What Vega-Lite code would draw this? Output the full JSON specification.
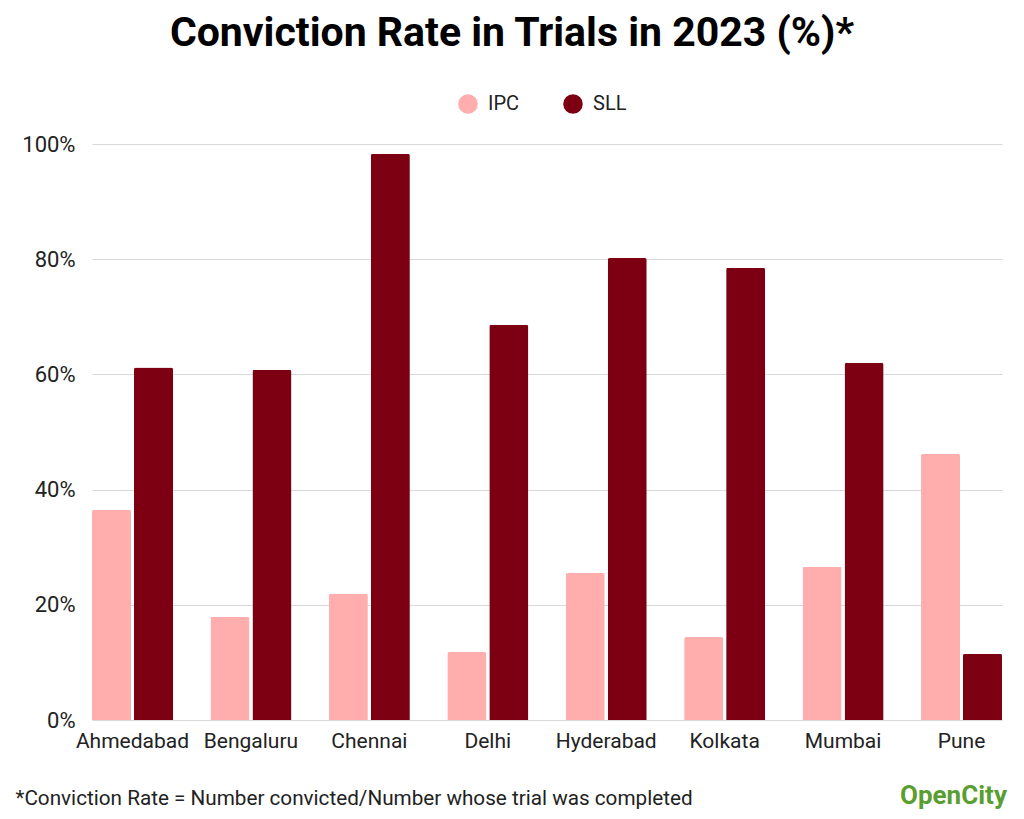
{
  "$schema": "https://vega.github.io/schema/vega-lite/v6.json",
  "autosize": "none",
  "width": 910,
  "height": 576,
  "padding": {"left": 92, "top": 144, "right": 22, "bottom": 99},
  "background": "white",
  "config": {
    "font": "Roboto",
    "view": {"stroke": null}
  },
  "title": {
    "text": "Conviction Rate in Trials in 2023 (%)*",
    "font": "Roboto",
    "fontSize": 41,
    "fontWeight": "bold",
    "color": "#000000",
    "anchor": "middle",
    "dx": -35,
    "offset": 39
  },
  "layer": [
    {
      "data": {
        "values": [
          {"city": "Ahmedabad", "type": "IPC", "value": 36.5},
          {"city": "Ahmedabad", "type": "SLL", "value": 61.2},
          {"city": "Bengaluru", "type": "IPC", "value": 17.9},
          {"city": "Bengaluru", "type": "SLL", "value": 60.8},
          {"city": "Chennai", "type": "IPC", "value": 21.9},
          {"city": "Chennai", "type": "SLL", "value": 98.3},
          {"city": "Delhi", "type": "IPC", "value": 11.8},
          {"city": "Delhi", "type": "SLL", "value": 68.6},
          {"city": "Hyderabad", "type": "IPC", "value": 25.5},
          {"city": "Hyderabad", "type": "SLL", "value": 80.2},
          {"city": "Kolkata", "type": "IPC", "value": 14.4},
          {"city": "Kolkata", "type": "SLL", "value": 78.5},
          {"city": "Mumbai", "type": "IPC", "value": 26.6},
          {"city": "Mumbai", "type": "SLL", "value": 62.0},
          {"city": "Pune", "type": "IPC", "value": 46.2},
          {"city": "Pune", "type": "SLL", "value": 11.5}
        ]
      },
      "mark": {"type": "bar", "cornerRadiusTopLeft": 2, "cornerRadiusTopRight": 2},
      "encoding": {
        "x": {
          "field": "city",
          "type": "nominal",
          "sort": null,
          "scale": {"paddingInner": 0.316, "paddingOuter": 0},
          "axis": {
            "labelAngle": 0,
            "labelFontSize": 21,
            "labelColor": "#222222",
            "labelPadding": 10,
            "ticks": false,
            "domain": false,
            "title": "*Conviction Rate = Number convicted/Number whose trial was completed",
            "titleFontSize": 20.7,
            "titleFontWeight": "normal",
            "titleColor": "#222222",
            "titleAnchor": "start",
            "titleAlign": "left",
            "titleBaseline": "alphabetic",
            "titleX": -77,
            "titleY": 84
          }
        },
        "xOffset": {
          "field": "type",
          "type": "nominal",
          "scale": {"paddingInner": 0.071, "paddingOuter": 0}
        },
        "y": {
          "field": "value",
          "type": "quantitative",
          "scale": {"domain": [0, 100]},
          "axis": {
            "values": [0, 20, 40, 60, 80, 100],
            "labelExpr": "datum.value + '%'",
            "labelFontSize": 22,
            "labelColor": "#222222",
            "labelPadding": 17,
            "ticks": false,
            "domain": false,
            "gridColor": "#d9d9d9",
            "title": null
          }
        },
        "color": {
          "field": "type",
          "type": "nominal",
          "scale": {"domain": ["IPC", "SLL"], "range": ["#FFADAD", "#7C0012"]},
          "legend": {
            "title": null,
            "orient": "none",
            "direction": "horizontal",
            "legendX": 366,
            "legendY": -50,
            "symbolType": "circle",
            "symbolSize": 380,
            "symbolStrokeWidth": 0,
            "labelFontSize": 20,
            "labelColor": "#222222",
            "labelOffset": 10,
            "columnPadding": 43
          }
        }
      }
    },
    {
      "data": {"values": [{"label": "OpenCity"}]},
      "mark": {"type": "text", "fontSize": 26, "fontWeight": "bold", "color": "#5a9e32", "dy": 76, "dx": -8, "baseline": "middle"},
      "encoding": {
        "x": {"datum": "Pune", "type": "nominal"},
        "y": {"datum": 0, "type": "quantitative"},
        "text": {"field": "label"}
      }
    }
  ]
}
